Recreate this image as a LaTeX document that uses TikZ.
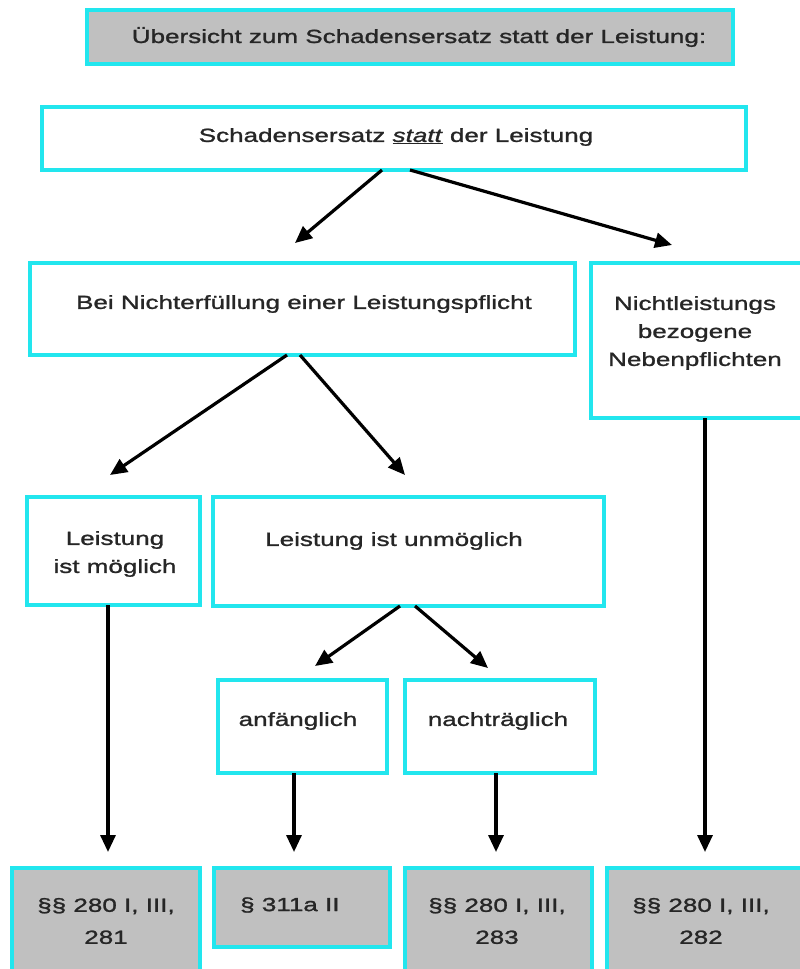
\documentclass[tikz,border=0pt]{standalone}
\usepackage{fontspec}
\setmainfont{Liberation Sans}[FakeStretch=1.37,FakeBold=1.3]
\usetikzlibrary{arrows.meta}
\definecolor{cyanb}{HTML}{22E6EE}
\definecolor{grayf}{HTML}{C0C0C0}
\begin{document}
\begin{tikzpicture}[x=1pt,y=-1pt,
  box/.style={draw=cyanb, line width=3.5pt, inner sep=0pt, outer sep=0pt, anchor=north west},
  gbox/.style={box, fill=grayf},
  txt/.style={font=\fontsize{19}{28}\selectfont, align=center, inner sep=0pt, text=black!85},
  arr/.style={line width=3.2pt, -{Triangle[length=17pt,width=15pt]}}]
\useasboundingbox[fill=white] (0,0) rectangle (800,969);
% boxes
\node[gbox, minimum width=646pt, minimum height=54pt] (T) at (87,10) {};
\node[box, minimum width=704pt, minimum height=63pt] (A) at (42,107) {};
\node[box, minimum width=545pt, minimum height=92pt] (B) at (30,263) {};
\node[box, minimum width=215pt, minimum height=155pt] (C) at (591,263) {};
\node[box, minimum width=173pt, minimum height=108pt] (D) at (27,497) {};
\node[box, minimum width=391pt, minimum height=109pt] (E) at (213,497) {};
\node[box, minimum width=169pt, minimum height=93pt] (F) at (218,680) {};
\node[box, minimum width=190pt, minimum height=93pt] (G) at (405,680) {};
\node[gbox, minimum width=188pt, minimum height=110pt] (H1) at (12,868) {};
\node[gbox, minimum width=176pt, minimum height=79pt] (H2) at (214,868) {};
\node[gbox, minimum width=187pt, minimum height=110pt] (H3) at (405,868) {};
\node[gbox, minimum width=199pt, minimum height=110pt] (H4) at (607,868) {};
% texts
\node[txt] (tT) at (419,37) {Übersicht zum Schadensersatz statt der Leistung:};
\node[txt] (tA) at (396,137) {Schadensersatz \underline{\textit{statt}} der Leistung};
\node[txt] (tB) at (304,304) {Bei Nichterfüllung einer Leistungspflicht};
\node[txt] (tC) at (695,333) {Nichtleistungs\\bezogene\\Nebenpflichten};
\node[txt] (tD) at (115,554) {Leistung\\ist möglich};
\node[txt] (tE) at (394,541) {Leistung ist unmöglich};
\node[txt] (tF) at (298,721) {anfänglich};
\node[txt] (tG) at (498,721) {nachträglich};
\node[txt, font=\fontsize{19}{32}\selectfont] (tH1) at (106,921) {§§ 280 I, III,\\281};
\node[txt, anchor=west] (tH2) at (240,905) {§ 311a II};
\node[txt, font=\fontsize{19}{32}\selectfont] (tH3) at (497,921) {§§ 280 I, III,\\283};
\node[txt, font=\fontsize{19}{32}\selectfont] (tH4) at (701,921) {§§ 280 I, III,\\282};
% arrows
\draw[arr] ([xshift=-12pt]A.south) -- ([xshift=-7.5pt,yshift=20pt]B.north);
\draw[arr] ([xshift=16pt]A.south) -- ([xshift=-26.5pt,yshift=18pt]C.north);
\draw[arr] ([xshift=-15.5pt]B.south) -- ([xshift=-3.5pt,yshift=22pt]D.north);
\draw[arr] ([xshift=-2.5pt]B.south) -- ([xshift=-3.5pt,yshift=22pt]E.north);
\draw[arr] ([xshift=-8.5pt]E.south) -- ([xshift=12.5pt,yshift=14pt]F.north);
\draw[arr] ([xshift=6.5pt]E.south) -- ([xshift=-12pt,yshift=12pt]G.north);
\draw[arr] ([xshift=-5.5pt]D.south) -- ([xshift=2pt,yshift=16pt]H1.north);
\draw[arr] ([xshift=-8.5pt]F.south) -- ([xshift=-8pt,yshift=16pt]H2.north);
\draw[arr] ([xshift=-4pt]G.south) -- ([xshift=-2.5pt,yshift=16pt]H3.north);
\draw[arr] ([xshift=6.5pt]C.south) -- ([xshift=-1.5pt,yshift=16pt]H4.north);
\end{tikzpicture}
\end{document}
